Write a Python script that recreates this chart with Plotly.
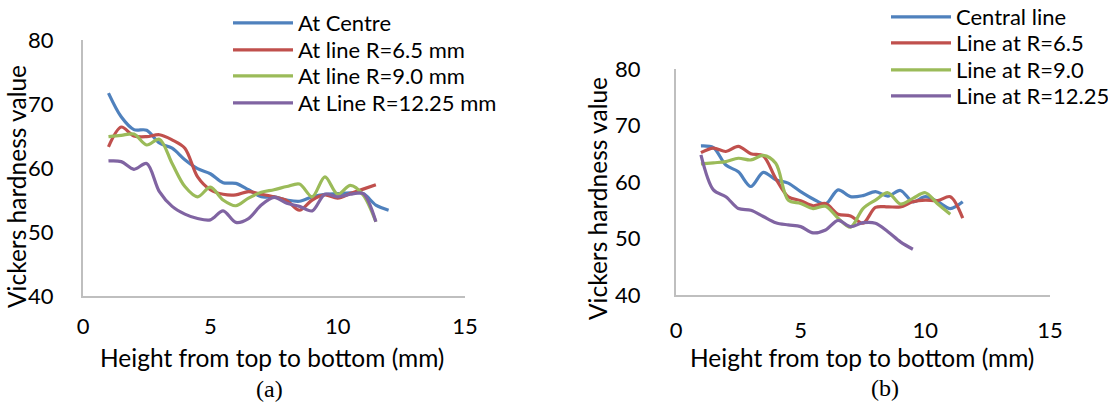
import plotly.graph_objects as go

# ---------------- data: panel (a) ----------------
x_a_12 = [1, 1.5, 2, 2.5, 3, 3.5, 4, 4.5, 5, 5.5, 6, 6.5, 7, 7.5, 8, 8.5, 9, 9.5, 10, 10.5, 11, 11.5, 12]
x_a = [1, 1.5, 2, 2.5, 3, 3.5, 4, 4.5, 5, 5.5, 6, 6.5, 7, 7.5, 8, 8.5, 9, 9.5, 10, 10.5, 11, 11.5]
a_centre = [71.7, 68.0, 66.0, 65.9, 63.9, 63.1, 61.3, 59.9, 59.1, 57.7, 57.6, 56.6, 55.5, 55.5, 55.0, 54.8,
            55.5, 55.9, 56.0, 56.1, 56.0, 54.2, 53.4]
a_r65 = [63.3, 66.4, 65.0, 64.9, 65.2, 64.4, 63.1, 58.6, 56.6, 55.9, 55.8, 56.3, 55.9, 55.5, 54.9, 53.4,
         55.0, 55.8, 55.3, 56.0, 56.7, 57.4]
a_r90 = [64.9, 65.1, 65.3, 63.6, 64.5, 60.7, 57.1, 55.5, 57.0, 55.0, 54.1, 55.3, 56.2, 56.6, 57.1, 57.5,
         55.5, 58.6, 55.9, 57.3, 55.8, 51.6]
a_r1225 = [61.1, 61.0, 59.8, 60.7, 56.3, 54.0, 52.8, 52.1, 51.9, 53.3, 51.5, 52.1, 54.2, 55.4, 54.5, 54.0,
           53.3, 55.9, 55.5, 55.9, 56.0, 51.6]
names_a = ["At Centre", "At line R=6.5 mm", "At line R=9.0 mm", "At Line R=12.25 mm"]

# ---------------- data: panel (b) ----------------
x_b_115 = [1, 1.5, 2, 2.5, 3, 3.5, 4, 4.5, 5, 5.5, 6, 6.5, 7, 7.5, 8, 8.5, 9, 9.5, 10, 10.5, 11, 11.5]
x_b_11 = [1, 1.5, 2, 2.5, 3, 3.5, 4, 4.5, 5, 5.5, 6, 6.5, 7, 7.5, 8, 8.5, 9, 9.5, 10, 10.5, 11]
x_b_95 = [1, 1.5, 2, 2.5, 3, 3.5, 4, 4.5, 5, 5.5, 6, 6.5, 7, 7.5, 8, 8.5, 9, 9.5]
b_central = [66.4, 66.1, 63.0, 61.8, 59.2, 61.7, 60.4, 59.8, 58.3, 57.0, 56.1, 58.6, 57.4, 57.6, 58.3, 57.5,
             58.5, 56.5, 57.4, 56.5, 55.3, 56.5]
b_r65 = [65.2, 66.0, 65.4, 66.3, 65.0, 64.6, 60.6, 57.4, 56.7, 55.8, 56.2, 54.3, 54.0, 52.7, 55.5, 55.6,
         55.6, 56.5, 56.8, 56.7, 57.4, 53.6]
b_r90 = [63.2, 63.4, 63.6, 64.2, 63.9, 64.7, 63.3, 56.8, 56.2, 55.3, 55.7, 53.6, 52.0, 55.3, 56.8, 58.1,
         56.1, 57.1, 58.1, 56.1, 54.3]
b_r1225 = [64.8, 58.6, 57.4, 55.3, 55.0, 53.9, 52.8, 52.4, 52.1, 51.0, 51.5, 53.2, 52.1, 52.8, 52.7, 51.2,
           49.4, 48.1]
names_b = ["Central line", "Line at R=6.5", "Line at R=9.0", "Line at R=12.25"]

x_ticks = [0, 5, 10, 15]
y_ticks = [40, 50, 60, 70, 80]
colors = ["#4F81BD", "#C0504D", "#9BBB59", "#8064A2"]

FONT = "Lato"
W, H = 1108, 402

# legend row positions (px from top) for each panel
legend_rows_a = [23, 50, 76, 103]
legend_rows_b = [17, 43, 70, 96]

fig = go.Figure()
legends = {}

series_a = [(x_a_12, a_centre), (x_a, a_r65), (x_a, a_r90), (x_a, a_r1225)]
for i, ((xs, ys), nm, c) in enumerate(zip(series_a, names_a, colors)):
    key = "legend" if i == 0 else f"legend{i + 1}"
    fig.add_trace(go.Scatter(x=xs, y=ys, name=nm, mode="lines", xaxis="x", yaxis="y",
                             line=dict(color=c, width=3.2, shape="spline", smoothing=0.9),
                             legend=key))
    legends[key] = dict(x=228 / W, y=1 - legend_rows_a[i] / H, yanchor="middle")

series_b = [(x_b_115, b_central), (x_b_115, b_r65), (x_b_11, b_r90), (x_b_95, b_r1225)]
for i, ((xs, ys), nm, c) in enumerate(zip(series_b, names_b, colors)):
    key = f"legend{i + 5}"
    fig.add_trace(go.Scatter(x=xs, y=ys, name=nm, mode="lines", xaxis="x2", yaxis="y2",
                             line=dict(color=c, width=3.2, shape="spline", smoothing=0.9),
                             legend=key))
    legends[key] = dict(x=886 / W, y=1 - legend_rows_b[i] / H, yanchor="middle")

for key, spec in legends.items():
    spec.update(xanchor="left", bgcolor="rgba(0,0,0,0)", borderwidth=0,
                font=dict(family=FONT, size=22, color="#000000"), itemwidth=60)

axis_common = dict(showgrid=False, zeroline=False, showline=True, linecolor="#BFBFBF", linewidth=2,
                   ticks="", tickfont=dict(family=FONT, size=22, color="#000000"))

fig.update_layout(
    width=W, height=H,
    margin=dict(l=0, r=0, t=0, b=0, autoexpand=False),
    paper_bgcolor="white", plot_bgcolor="white",
    xaxis=dict(domain=[83 / W, 465 / W], range=[0, 15], tickvals=x_ticks, anchor="y",
               ticklabelstandoff=10, **axis_common),
    yaxis=dict(domain=[1 - 296 / H, 1 - 40 / H], range=[40, 80], tickvals=y_ticks, anchor="x",
               ticklabelstandoff=23, **axis_common),
    xaxis2=dict(domain=[676 / W, 1050 / W], range=[0, 15], tickvals=x_ticks, anchor="y2",
                ticklabelstandoff=15, **axis_common),
    yaxis2=dict(domain=[1 - 295 / H, 1 - 69 / H], range=[40, 80], tickvals=y_ticks, anchor="x2",
                ticklabelstandoff=29, **axis_common),
    showlegend=True,
    **legends,
)

ann_font = dict(family=FONT, size=24.5, color="#000000")
annotations = [
    dict(text="Vickers hardness value", x=16 / W, y=1 - 187 / H, textangle=-90, font=ann_font),
    dict(text="Vickers hardness value", x=597 / W, y=1 - 199 / H, textangle=-90, font=ann_font),
    dict(text="Height from top to bottom (mm)", x=272 / W, y=1 - 357 / H, font=ann_font),
    dict(text="Height from top to bottom (mm)", x=862 / W, y=1 - 357 / H, font=ann_font),
    dict(text="(a)", x=269 / W, y=1 - 389 / H,
         font=dict(family="Liberation Serif", size=24, color="#000000")),
    dict(text="(b)", x=885 / W, y=1 - 388 / H,
         font=dict(family="Liberation Serif", size=24, color="#000000")),
]
for a in annotations:
    a.update(xref="paper", yref="paper", showarrow=False, xanchor="center", yanchor="middle")
fig.update_layout(annotations=annotations)

fig.write_html("out.html")
